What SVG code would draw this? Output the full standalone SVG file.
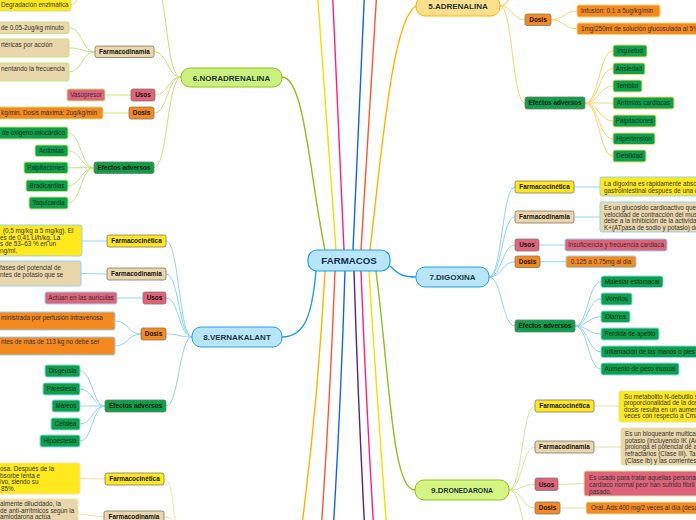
<svg xmlns="http://www.w3.org/2000/svg" width="696" height="520" viewBox="0 0 696 520">
<style>
.bg{fill:#ffffff}
.m{fill:none;stroke-width:1.4}
.b{fill:none;stroke-width:1}
.cn{stroke:#c9e27f}.ca{stroke:#f8d66f}.cb{stroke:#8fd3f5}.cr{stroke:#d4e99a}.co{stroke:#ffe09a}
.l2{stroke:#7f7866;stroke-width:0.8}
.fc{fill:#ffe81c}.fd{fill:#e9d6ab}.us{fill:#e0637b}.do{fill:#f5891f}.ef{fill:#0ba14b}
.t1{font-family:"Liberation Sans",Arial,sans-serif;font-weight:bold;font-size:8px;fill:#17383a;text-anchor:middle}
.t0{font-family:"Liberation Sans",Arial,sans-serif;font-weight:bold;font-size:9.7px;fill:#0e2a4d;text-anchor:middle}
.t2{font-family:"Liberation Sans",Arial,sans-serif;font-weight:bold;font-size:6.4px;fill:#111;text-anchor:middle}
.t3{font-family:"Liberation Sans",Arial,sans-serif;font-size:6.3px;fill:#333}
.mid{text-anchor:middle}
.g3{fill:#10281a}
</style>
<rect class="bg" x="0" y="0" width="696" height="520"/>
<g id="connectors">
<path class="m" stroke="#f2e000" d="M336 250 L317.6 -5"/>
<path class="m" stroke="#ff1f7c" d="M344 250 L332.6 -5"/>
<path class="m" stroke="#1565d8" d="M353 250 L364.4 -5"/>
<path class="m" stroke="#ff5533" d="M361 250 L376.6 -5"/>
<path class="m" stroke="#ffb300" d="M370 250 C382 150 392 20 416 6"/>
<path class="m" stroke="#8cc21f" d="M325 250 C310 180 305 77 282 77"/>
<path class="m" stroke="#ffb300" d="M325 271 Q318 400 302 525"/>
<path class="m" stroke="#ff5533" d="M335 271 Q330 400 321.5 525"/>
<path class="m" stroke="#1565d8" d="M345 271 Q341 400 333.5 525"/>
<path class="m" stroke="#5b2180" d="M354 271 Q358 400 364.5 525"/>
<path class="m" stroke="#ff1f7c" d="M361 271 Q366 400 373.5 525"/>
<path class="m" stroke="#f2e000" d="M369 271 Q377 400 386.5 525"/>
<path class="m" stroke="#8cc21f" d="M376 271 C390 380 392 490 415 490"/>
<path class="m" stroke="#1ea0e6" d="M390 266 C400 276 405 277 416 277"/>
<path class="m" stroke="#1ea0e6" d="M316 271 C312 315 305 337 282 337"/>
<!-- noradrenalina -->
<path class="b cn" d="M181 77 C167.5 77 167.5 51.75 154 51.75"/>
<path class="b cn" d="M181 77 C168 77 168 95 155 95"/>
<path class="b cn" d="M181 77 C167.5 77 167.5 113 154 113"/>
<path class="b cn" d="M181 77 C167.5 77 167.5 167.75 154 167.75"/>
<path class="b cn" d="M181 77 C168 77 168 20 160 -10"/>
<path class="b cn" d="M95 51.75 C82 51.75 82 27.75 69 27.75"/>
<path class="b cn" d="M95 51.75 C82 51.75 82 48 69 48"/>
<path class="b cn" d="M95 51.75 C82 51.75 82 72 69 72"/>
<path class="b cn" d="M131 95 L105 95"/>
<path class="b cn" d="M129 113 L103 113"/>
<path class="b cn" d="M94 167.75 C81 167.75 81 133 68 133"/>
<path class="b cn" d="M94 167.75 C81 167.75 81 150.75 68 150.75"/>
<path class="b cn" d="M94 167.75 L68 167.75"/>
<path class="b cn" d="M94 167.75 C81 167.75 81 185.75 68 185.75"/>
<path class="b cn" d="M94 167.75 C81 167.75 81 203 68 203"/>
<path class="b cn" d="M71 4.5 C76 4.5 76 0 80 -6"/>
<!-- adrenalina -->
<path class="b ca" d="M500 6 C512.5 6 512.5 19.75 525 19.75"/>
<path class="b ca" d="M500 6 C512.5 6 512.5 103 525 103"/>
<path class="b ca" d="M500 6 C512 6 512 -15 525 -20"/>
<path class="b ca" d="M500 6 C512 6 514 -30 522 -40"/>
<path class="b ca" d="M551 19.75 C564 19.75 564 11 577 11"/>
<path class="b ca" d="M551 19.75 C564 19.75 564 28.75 577 28.75"/>
<path class="b ca" d="M585 103 C599 103 599 51 613 51"/>
<path class="b ca" d="M585 103 C599 103 599 68.75 613 68.75"/>
<path class="b ca" d="M585 103 C599 103 599 86 613 86"/>
<path class="b ca" d="M585 103 L613 103"/>
<path class="b ca" d="M585 103 C599 103 599 121 613 121"/>
<path class="b ca" d="M585 103 C599 103 599 138.75 613 138.75"/>
<path class="b ca" d="M585 103 C599 103 599 156 613 156"/>
<!-- digoxina -->
<path class="b cb" d="M489 277 C502 277 502 187 515 187"/>
<path class="b cb" d="M489 277 C502 277 502 217 515 217"/>
<path class="b cb" d="M489 277 C502 277 502 245 515 245"/>
<path class="b cb" d="M489 277 C502 277 502 261.75 515 261.75"/>
<path class="b cb" d="M489 277 C502 277 502 326 515 326"/>
<path class="b cb" d="M574 187 L600 187"/>
<path class="b cb" d="M574 217 L600 217"/>
<path class="b cb" d="M539 245 L565 245"/>
<path class="b cb" d="M540 261.75 L566 261.75"/>
<path class="b cb" d="M575 326 C588 326 588 281.75 601 281.75"/>
<path class="b cb" d="M575 326 C588 326 588 299 601 299"/>
<path class="b cb" d="M575 326 C588 326 588 316.75 601 316.75"/>
<path class="b cb" d="M575 326 C588 326 588 334 601 334"/>
<path class="b cb" d="M575 326 C588 326 588 351.75 601 351.75"/>
<path class="b cb" d="M575 326 C588 326 588 369 601 369"/>
<!-- vernakalant -->
<path class="b cb" d="M192 337 C179 337 179 241 166 241"/>
<path class="b cb" d="M192 337 C179 337 179 274 166 274"/>
<path class="b cb" d="M192 337 C179 337 179 298 166 298"/>
<path class="b cb" d="M192 337 C179 337 179 334 166 334"/>
<path class="b cb" d="M192 337 C179 337 179 406 166 406"/>
<path class="b cb" d="M107 241 L82 241"/>
<path class="b cb" d="M107 274 L81 273.5"/>
<path class="b cb" d="M143 298 L117 298"/>
<path class="b cb" d="M141 334 C128 334 128 321 115 321"/>
<path class="b cb" d="M141 334 C128 334 128 346 115 346"/>
<path class="b cb" d="M105 406 C92.5 406 92.5 371 80 371"/>
<path class="b cb" d="M105 406 C92.5 406 92.5 389 80 389"/>
<path class="b cb" d="M105 406 L80 406"/>
<path class="b cb" d="M105 406 C92.5 406 92.5 424 80 424"/>
<path class="b cb" d="M105 406 C92.5 406 92.5 441 80 441"/>
<!-- dronedarona -->
<path class="b cr" d="M509 490 C522 490 522 406 535 406"/>
<path class="b cr" d="M509 490 C522 490 522 447 535 447"/>
<path class="b cr" d="M509 490 C522 490 522 484.5 535 484.5"/>
<path class="b cr" d="M509 490 C522 490 522 508 535 508"/>
<path class="b cr" d="M509 490 C522 490 522 540 535 545"/>
<path class="b cr" d="M594 406 L619 406"/>
<path class="b cr" d="M594 447 L621 447"/>
<path class="b cr" d="M558 484.5 L584 483.5"/>
<path class="b cr" d="M560 508 L586 508"/>
<!-- bottom left branch -->
<path class="b co" d="M105 479 L80 478.5"/>
<path class="b co" d="M104 517 L78 514"/>
<path class="b co" d="M164 479 C172 479 172 500 176 525"/>
<path class="b co" d="M164 517 C172 517 173 522 176 526"/>
</g>
<g id="n-farmacos"><rect x="308" y="250" width="82" height="21" rx="9" fill="#b9e5fa" stroke="#1ea0e6" stroke-width="1.2"/><text class="t0" x="349" y="264">FARMACOS</text></g>
<g id="n-noradrenalina"><rect x="181" y="68" width="101" height="19" rx="9" fill="#ccf07d" stroke="#8cc21f" stroke-width="1"/><text class="t1" x="231.5" y="80.5">6.NORADRENALINA</text></g>
<g id="n-adrenalina"><rect x="416" y="-4" width="84" height="20" rx="9" fill="#ffdf8c" stroke="#ffb300" stroke-width="1"/><text class="t1" x="458" y="9">5.ADRENALINA</text></g>
<g id="n-digoxina"><rect x="416" y="267" width="73" height="20" rx="9" fill="#b9e5fa" stroke="#1ea0e6" stroke-width="1"/><text class="t1" x="452.5" y="280">7.DIGOXINA</text></g>
<g id="n-vernakalant"><rect x="192" y="327" width="90" height="20" rx="9" fill="#b9e5fa" stroke="#1ea0e6" stroke-width="1"/><text class="t1" x="237" y="340">8.VERNAKALANT</text></g>
<g id="n-dronedarona"><rect x="415" y="480" width="94" height="20" rx="9" fill="#d5f583" stroke="#8cc21f" stroke-width="1"/><text class="t1" x="462" y="493">9.D<tspan font-size="6.8">RONEDARONA</tspan></text></g>
<!-- noradrenalina children -->
<g id="nor-fd"><rect class="fd l2" x="95" y="46" width="59" height="11.5" rx="2"/><text class="t2" x="124.5" y="54">Farmacodinamia</text></g>
<g id="nor-us"><rect class="us l2" x="131" y="89" width="24" height="12" rx="2"/><text class="t2" x="143" y="97.3">Usos</text></g>
<g id="nor-do"><rect class="do l2" x="129" y="107" width="25" height="12" rx="2"/><text class="t2" x="141.5" y="115.3">Dosis</text></g>
<g id="nor-ef"><rect class="ef l2" x="94" y="162" width="60" height="11.5" rx="2"/><text class="t2" x="124" y="170">Efectos adversos</text></g>
<g id="nor-l1"><rect class="fc cn" x="-5" y="-2" width="76" height="13" rx="2"/><text class="t3" x="1" y="7">Degradación enzimática</text></g>
<g id="nor-l2"><rect class="fd cn" x="-5" y="22" width="74" height="11.5" rx="2"/><text class="t3" x="1" y="30">de 0.05-2ug/kg minuto</text></g>
<g id="nor-l3"><rect class="fd cn" x="-5" y="39" width="74" height="18" rx="2"/><text class="t3" x="1" y="47">rtéricas por acción</text></g>
<g id="nor-l4"><rect class="fd cn" x="-5" y="63" width="74" height="18" rx="2"/><text class="t3" x="1" y="71">nentando la frecuencia</text></g>
<g id="nor-l5"><rect class="us cn" x="67" y="89" width="38" height="12" rx="2"/><text class="t3 mid" x="86" y="97.2">Vasopresor</text></g>
<g id="nor-l6"><rect class="do cn" x="-5" y="107" width="108" height="12" rx="2"/><text class="t3" x="1" y="115.2">kg/min. Dosis máxima: 2ug/kg/min</text></g>
<g id="nor-l7"><rect class="ef cn" x="-5" y="127" width="73" height="12" rx="2"/><text class="t3 g3" x="2" y="135.2">de oxigeno miocárdico</text></g>
<g id="nor-l8"><rect class="ef cn" x="35" y="145" width="33" height="11.5" rx="2"/><text class="t3 g3 mid" x="51.5" y="152.9">Arritmias</text></g>
<g id="nor-l9"><rect class="ef cn" x="24" y="162" width="44" height="11.5" rx="2"/><text class="t3 g3 mid" x="46" y="169.9">Palpitaciones</text></g>
<g id="nor-l10"><rect class="ef cn" x="26" y="180" width="42" height="11.5" rx="2"/><text class="t3 g3 mid" x="47" y="187.9">Bradicardias</text></g>
<g id="nor-l11"><rect class="ef cn" x="29" y="197" width="39" height="12" rx="2"/><text class="t3 g3 mid" x="48.5" y="205.2">Taquicardia</text></g>
<!-- adrenalina children -->
<g id="adr-do"><rect class="do l2" x="525" y="14" width="26" height="11.5" rx="2"/><text class="t2" x="538" y="22">Dosis</text></g>
<g id="adr-ef"><rect class="ef l2" x="525" y="97" width="60" height="12" rx="2"/><text class="t2" x="555" y="105.3">Efectos adversos</text></g>
<g id="adr-l1"><rect class="do ca" x="577" y="5" width="83" height="12" rx="2"/><text class="t3" x="581" y="13.2">Infusión: 0.1 a 5ug/kg/min</text></g>
<g id="adr-l2"><rect class="do ca" x="577" y="23" width="125" height="11.5" rx="2"/><text class="t3" x="581" y="31">1mg/250ml de solución glucosulada al 5%</text></g>
<g id="adr-l3"><rect class="ef ca" x="613" y="45" width="34" height="12" rx="2"/><text class="t3 g3 mid" x="630" y="53.2">Inquietud</text></g>
<g id="adr-l4"><rect class="ef ca" x="613" y="63" width="32" height="11.5" rx="2"/><text class="t3 g3 mid" x="629" y="71">Ansiedad</text></g>
<g id="adr-l5"><rect class="ef ca" x="613" y="80" width="29" height="12" rx="2"/><text class="t3 g3 mid" x="627.5" y="88.2">Temblor</text></g>
<g id="adr-l6"><rect class="ef ca" x="613" y="97" width="61" height="12" rx="2"/><text class="t3 g3 mid" x="643.5" y="105.2">Arritmias cardiacas</text></g>
<g id="adr-l7"><rect class="ef ca" x="613" y="115" width="43" height="12" rx="2"/><text class="t3 g3 mid" x="634.5" y="123.2">Palpitaciones</text></g>
<g id="adr-l8"><rect class="ef ca" x="613" y="133" width="42" height="11.5" rx="2"/><text class="t3 g3 mid" x="634" y="141">Hipertensión</text></g>
<g id="adr-l9"><rect class="ef ca" x="613" y="150" width="33" height="12" rx="2"/><text class="t3 g3 mid" x="629.5" y="158.2">Debilidad</text></g>
<!-- digoxina children -->
<g id="dig-fc"><rect class="fc l2" x="515" y="181" width="59" height="12" rx="2"/><text class="t2" x="544.5" y="189.3">Farmacocinética</text></g>
<g id="dig-fd"><rect class="fd l2" x="515" y="211" width="59" height="12" rx="2"/><text class="t2" x="544.5" y="219.3">Farmacodinamia</text></g>
<g id="dig-us"><rect class="us l2" x="515" y="239" width="24" height="12" rx="2"/><text class="t2" x="527" y="247.3">Usos</text></g>
<g id="dig-do"><rect class="do l2" x="515" y="256" width="25" height="11.5" rx="2"/><text class="t2" x="527.5" y="264">Dosis</text></g>
<g id="dig-ef"><rect class="ef l2" x="515" y="320" width="60" height="12" rx="2"/><text class="t2" x="545" y="328.3">Efectos adversos</text></g>
<g id="dig-l1"><rect class="fc cb" x="600" y="177" width="110" height="19" rx="2"/><text class="t3" x="604" y="186">La digoxina es rápidamente absor</text><text class="t3" x="604" y="192.5">gastrointestinal después de una c</text></g>
<g id="dig-l2"><rect class="fd cb" x="600" y="202" width="110" height="30" rx="2"/><text class="t3" x="604" y="210">Es un glucósido cardioactivo que</text><text class="t3" x="604" y="216.5">velocidad de contracción del mus</text><text class="t3" x="604" y="223">debe a la inhibición de la activida</text><text class="t3" x="604" y="229.5">K+(ATpasa de sodio y potasio) de</text></g>
<g id="dig-l3"><rect class="us cb" x="565" y="239" width="102" height="12" rx="2"/><text class="t3 mid" x="616" y="247.2">Insuficiencia y frecuencia cardiaca</text></g>
<g id="dig-l4"><rect class="do cb" x="566" y="256" width="70" height="11.5" rx="2"/><text class="t3 mid" x="601" y="264">0.125 a 0.75mg al dia</text></g>
<g id="dig-l5"><rect class="ef cb" x="601" y="276" width="62" height="11.5" rx="2"/><text class="t3 g3 mid" x="632" y="284">Malestar estomacal</text></g>
<g id="dig-l6"><rect class="ef cb" x="601" y="293" width="31" height="12" rx="2"/><text class="t3 g3 mid" x="616.5" y="301.2">Vómitos</text></g>
<g id="dig-l7"><rect class="ef cb" x="601" y="311" width="29" height="11.5" rx="2"/><text class="t3 g3 mid" x="615.5" y="319">Diarrea</text></g>
<g id="dig-l8"><rect class="ef cb" x="601" y="328" width="58" height="12" rx="2"/><text class="t3 g3 mid" x="630" y="336.2">Perdida de apetito</text></g>
<g id="dig-l9"><rect class="ef cb" x="601" y="346" width="110" height="11.5" rx="2"/><text class="t3 g3" x="605" y="354">Inflamación de las manos o pies</text></g>
<g id="dig-l10"><rect class="ef cb" x="601" y="363" width="78" height="12" rx="2"/><text class="t3 g3 mid" x="640" y="371.2">Aumento de peso inusual</text></g>
<!-- vernakalant children -->
<g id="ver-fc"><rect class="fc l2" x="107" y="235" width="59" height="12" rx="2"/><text class="t2" x="136.5" y="243.3">Farmacocinética</text></g>
<g id="ver-fd"><rect class="fd l2" x="107" y="268" width="59" height="12" rx="2"/><text class="t2" x="136.5" y="276.3">Farmacodinamia</text></g>
<g id="ver-us"><rect class="us l2" x="143" y="292" width="23" height="12" rx="2"/><text class="t2" x="154.5" y="300.3">Usos</text></g>
<g id="ver-do"><rect class="do l2" x="141" y="328" width="25" height="12" rx="2"/><text class="t2" x="153.5" y="336.3">Dosis</text></g>
<g id="ver-ef"><rect class="ef l2" x="105" y="400" width="61" height="12" rx="2"/><text class="t2" x="135.5" y="408.3">Efectos adversos</text></g>
<g id="ver-l1"><rect class="fc cb" x="-5" y="225" width="87" height="31" rx="2"/><text class="t3" x="3" y="233">(0,5 mg/kg a 5 mg/kg). El</text><text class="t3" x="0" y="239.5">es de 0,41 Ll/h/kg. La</text><text class="t3" x="0" y="246">s de 53–63 % en un</text><text class="t3" x="0" y="252.5">ng/ml.</text></g>
<g id="ver-l2"><rect class="fd cb" x="-5" y="261" width="86" height="25" rx="2"/><text class="t3" x="0" y="270">fases del potencial de</text><text class="t3" x="0" y="276.5">ntes de potasio que se</text></g>
<g id="ver-l3"><rect class="us cb" x="45" y="292" width="72" height="12" rx="2"/><text class="t3 mid" x="81" y="300.2">Actúan en las aurículas</text></g>
<g id="ver-l4"><rect class="do cb" x="-5" y="312" width="120" height="18" rx="2"/><text class="t3" x="1" y="320">ministrada por perfusión intravenosa</text></g>
<g id="ver-l5"><rect class="do cb" x="-5" y="337" width="120" height="18" rx="2"/><text class="t3" x="1" y="343.5">ntes de más de 113 kg no debe ser</text></g>
<g id="ver-l6"><rect class="ef cb" x="45" y="365" width="35" height="12" rx="2"/><text class="t3 g3 mid" x="62.5" y="373.2">Disgeusia</text></g>
<g id="ver-l7"><rect class="ef cb" x="43" y="383" width="37" height="12" rx="2"/><text class="t3 g3 mid" x="61.5" y="391.2">Parestesia</text></g>
<g id="ver-l8"><rect class="ef cb" x="52" y="400" width="28" height="12" rx="2"/><text class="t3 g3 mid" x="66" y="408.2">Mareos</text></g>
<g id="ver-l9"><rect class="ef cb" x="51" y="418" width="29" height="12" rx="2"/><text class="t3 g3 mid" x="65.5" y="426.2">Cefalea</text></g>
<g id="ver-l10"><rect class="ef cb" x="40" y="435" width="40" height="12" rx="2"/><text class="t3 g3 mid" x="60" y="443.2">Hipoestesia</text></g>
<!-- dronedarona children -->
<g id="dro-fc"><rect class="fc l2" x="535" y="400" width="59" height="12" rx="2"/><text class="t2" x="564.5" y="408.3">Farmacocinética</text></g>
<g id="dro-fd"><rect class="fd l2" x="535" y="441" width="59" height="12" rx="2"/><text class="t2" x="564.5" y="449.3">Farmacodinamia</text></g>
<g id="dro-us"><rect class="us l2" x="535" y="478" width="23" height="12.5" rx="2"/><text class="t2" x="546.5" y="486.8">Usos</text></g>
<g id="dro-do"><rect class="do l2" x="535" y="502" width="25" height="12" rx="2"/><text class="t2" x="547.5" y="510.3">Dosis</text></g>
<g id="dro-l1"><rect class="fc cr" x="619" y="391" width="90" height="31" rx="2"/><text class="t3" x="624" y="398.5">Su metabolito N-debutilo s</text><text class="t3" x="624" y="405">proporcionalidad de la dos</text><text class="t3" x="624" y="411.5">dosis resulta en un aumer</text><text class="t3" x="624" y="418">veces con respecto a Cma</text></g>
<g id="dro-l2"><rect class="fd cr" x="621" y="428" width="90" height="37" rx="2"/><text class="t3" x="625" y="436">Es un bloqueante multica</text><text class="t3" x="625" y="442.7">potasio (incluyendo IK (Ac</text><text class="t3" x="625" y="449.4">prolonga el potencial de a</text><text class="t3" x="625" y="456.1">refractarios (Clase III). Ta</text><text class="t3" x="625" y="462.8">(Clase Ib) y las corrientes</text></g>
<g id="dro-l3"><rect class="us cr" x="584" y="471" width="120" height="25" rx="2"/><text class="t3" x="589" y="479.5">Es usado para tratar aquellas personas</text><text class="t3" x="589" y="486.5">cardiaco normal peor han sufrido fibril</text><text class="t3" x="589" y="493.5">pasado.</text></g>
<g id="dro-l4"><rect class="do cr" x="586" y="502" width="120" height="12" rx="2"/><text class="t3" x="591" y="510.2">Oral. Ads:400 mg/2 veces al día (desa</text></g>
<!-- bottom-left branch -->
<g id="amio-fc"><rect class="fc l2" x="105" y="473" width="59" height="12" rx="2"/><text class="t2" x="134.5" y="481.3">Farmacocinética</text></g>
<g id="amio-fd"><rect class="fd l2" x="104" y="511" width="60" height="12" rx="2"/><text class="t2" x="134" y="519.3">Farmacodinamia</text></g>
<g id="amio-l1"><rect class="fc co" x="-5" y="463" width="85" height="31" rx="2"/><text class="t3" x="0" y="471">osa. Después de la</text><text class="t3" x="0" y="477.5">bsorbe lenta e</text><text class="t3" x="0" y="484">ivo, siendo su</text><text class="t3" x="1" y="490.5">85%.</text></g>
<g id="amio-l2"><rect class="fd co" x="-5" y="499" width="83" height="30" rx="2"/><text class="t3" x="0" y="506">almente dilucidado, la</text><text class="t3" x="0" y="512.5">de anti-arrítmicos según la</text><text class="t3" x="0" y="519">amiodarona actúa</text></g>
</svg>
